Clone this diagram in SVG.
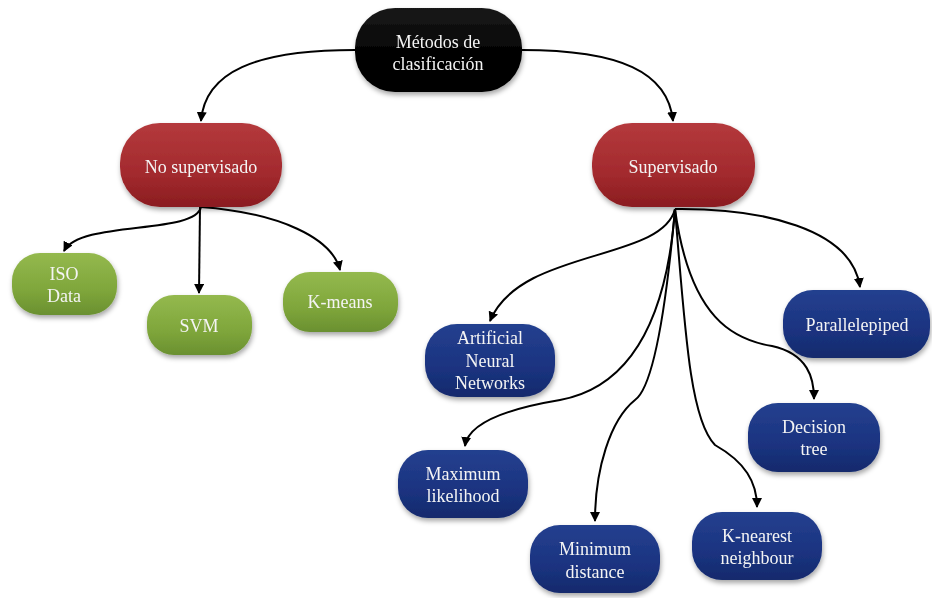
<svg xmlns="http://www.w3.org/2000/svg" width="932" height="598" viewBox="0 0 932 598">
<defs>
<style>
.c{fill:none;stroke:#000;stroke-width:2;marker-end:url(#ah)}
.t{font-family:"Liberation Serif","Times New Roman",serif;font-size:18px;fill:#f4f4f4;text-anchor:middle}
.n{filter:url(#sh)}
</style>
<marker id="ah" viewBox="0 0 10 10" refX="9" refY="5" markerWidth="5" markerHeight="5" orient="auto" markerUnits="strokeWidth">
<path d="M0,0 L10,5 L0,10 z" fill="#000"/>
</marker>
<filter id="sh" x="-20%" y="-20%" width="140%" height="150%">
<feDropShadow dx="1" dy="3" stdDeviation="2.5" flood-color="#000" flood-opacity="0.35"/>
</filter>
<linearGradient id="gk" x1="0" y1="0" x2="0" y2="1"><stop offset="0" stop-color="#1a1a1a"/><stop offset="0.5" stop-color="#050505"/><stop offset="1" stop-color="#000"/></linearGradient>
<linearGradient id="gr" x1="0" y1="0" x2="0" y2="1"><stop offset="0" stop-color="#b4393c"/><stop offset="0.6" stop-color="#a32a2e"/><stop offset="1" stop-color="#8a1c20"/></linearGradient>
<linearGradient id="gg" x1="0" y1="0" x2="0" y2="1"><stop offset="0" stop-color="#94b94e"/><stop offset="0.6" stop-color="#7fa63b"/><stop offset="1" stop-color="#6a9030"/></linearGradient>
<linearGradient id="gb" x1="0" y1="0" x2="0" y2="1"><stop offset="0" stop-color="#24408f"/><stop offset="0.6" stop-color="#1b3380"/><stop offset="1" stop-color="#132a6c"/></linearGradient>
</defs>
<rect width="932" height="598" fill="#fff"/>
<g id="connectors">
<path class="c" d="M355,50 C255,50 205,72 201,121"/>
<path class="c" d="M522,50 C620,50 668,72 673,121"/>
<path class="c" d="M201,207 C195,235 80,220 64,251"/>
<path class="c" d="M200,207 L199,293"/>
<path class="c" d="M201,207 C280,213 332,238 340,270"/>
<path class="c" d="M675,209 C662,262 520,248 490,321"/>
<path class="c" d="M675,209 C760,208 852,228 860,287"/>
<path class="c" d="M675,209 C666,330 625,388 560,400 C500,410 468,425 465,446"/>
<path class="c" d="M675,209 C665,320 652,388 635,400 C610,420 595,470 595,521"/>
<path class="c" d="M675,209 C685,330 690,420 715,445 C745,462 757,482 757,507"/>
<path class="c" d="M675,209 C690,320 735,340 772,346 C808,354 814,378 814,399"/>
</g>
<g id="n-metodos" class="n"><rect x="355" y="8" width="167" height="84" rx="40" fill="url(#gk)"/><text class="t" x="438" y="48">Métodos de</text><text class="t" x="438" y="70">clasificación</text></g>
<g id="n-nosup" class="n"><rect x="120" y="123" width="162" height="84" rx="40" fill="url(#gr)"/><text class="t" x="201" y="173">No supervisado</text></g>
<g id="n-sup" class="n"><rect x="592" y="123" width="163" height="84" rx="40" fill="url(#gr)"/><text class="t" x="673" y="173">Supervisado</text></g>
<g id="n-iso" class="n"><rect x="12" y="253" width="105" height="62" rx="28" fill="url(#gg)"/><text class="t" x="64" y="280">ISO</text><text class="t" x="64" y="302">Data</text></g>
<g id="n-svm" class="n"><rect x="147" y="295" width="105" height="60" rx="27" fill="url(#gg)"/><text class="t" x="199" y="332">SVM</text></g>
<g id="n-kmeans" class="n"><rect x="283" y="272" width="115" height="60" rx="27" fill="url(#gg)"/><text class="t" x="340" y="308">K-means</text></g>
<g id="n-ann" class="n"><rect x="425" y="324" width="130" height="73" rx="32" fill="url(#gb)"/><text class="t" x="490" y="344">Artificial</text><text class="t" x="490" y="367">Neural</text><text class="t" x="490" y="389">Networks</text></g>
<g id="n-para" class="n"><rect x="783" y="290" width="147" height="68" rx="30" fill="url(#gb)"/><text class="t" x="857" y="331">Parallelepiped</text></g>
<g id="n-dt" class="n"><rect x="748" y="403" width="132" height="69" rx="30" fill="url(#gb)"/><text class="t" x="814" y="433">Decision</text><text class="t" x="814" y="455">tree</text></g>
<g id="n-ml" class="n"><rect x="398" y="450" width="130" height="68" rx="30" fill="url(#gb)"/><text class="t" x="463" y="480">Maximum</text><text class="t" x="463" y="502">likelihood</text></g>
<g id="n-md" class="n"><rect x="530" y="525" width="130" height="68" rx="30" fill="url(#gb)"/><text class="t" x="595" y="555">Minimum</text><text class="t" x="595" y="578">distance</text></g>
<g id="n-knn" class="n"><rect x="692" y="512" width="130" height="68" rx="30" fill="url(#gb)"/><text class="t" x="757" y="542">K-nearest</text><text class="t" x="757" y="564">neighbour</text></g>
</svg>
